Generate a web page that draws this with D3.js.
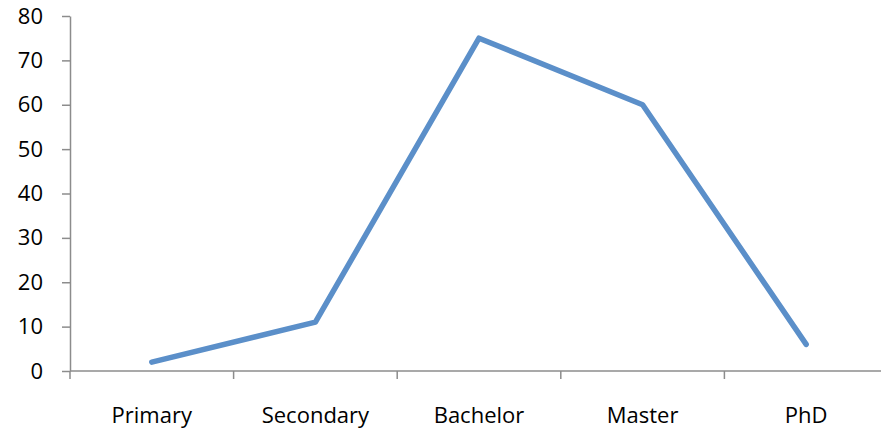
<!DOCTYPE html>
<html>
<head>
<meta charset="utf-8">
<script src="https://cdn.jsdelivr.net/npm/d3@7"></script>
<style>
  body { margin: 0; background: #fff; }
</style>
</head>
<body>
<div class="main"></div>
<script>
const width = 881;
const height = 433;
const margin = ({top: 16, right: -7, bottom: 62, left: 70});

const categories = ['Primary', 'Secondary', 'Bachelor', 'Master', 'PhD'];
const values = [2, 11, 75, 60, 6];
const yTicks = [0, 10, 20, 30, 40, 50, 60, 70, 80];

const data = categories.map((c, i) => ({cat: c, value: values[i]}));

const font = '"Open Sans", Lato, sans-serif';

const svg = d3.select('.main')
  .append('svg')
  .attr('width', width)
  .attr('height', height)
  .attr('style', `font-family: ${font}; font-size: 22px;`);

const x = d3.scaleBand()
  .domain(categories)
  .range([margin.left, width - margin.right]);

const y = d3.scaleLinear()
  .domain([0, 80])
  .range([height - margin.bottom, margin.top]);

const axisColor = '#8c8c8c';

// y axis
const yAxis = svg.append('g')
  .attr('transform', `translate(${margin.left}, 0)`)
  .call(d3.axisLeft(y).tickValues(yTicks).tickSize(8).tickPadding(19).tickSizeOuter(0));
yAxis.attr('font-family', null).attr('font-size', null);
yAxis.select('.domain').attr('stroke', axisColor).attr('stroke-width', 1.5);
yAxis.selectAll('.tick line').attr('stroke', axisColor).attr('stroke-width', 1.5);
yAxis.selectAll('.tick text').attr('fill', '#000');

// x axis
const xAxisG = svg.append('g')
  .attr('transform', `translate(0, ${y(0)})`);
xAxisG.append('line')
  .attr('x1', margin.left).attr('x2', width)
  .attr('stroke', axisColor).attr('stroke-width', 1.5);
const boundaries = categories.map(c => x(c));
xAxisG.selectAll('line.tk')
  .data(boundaries)
  .enter()
  .append('line')
  .attr('class', 'tk')
  .attr('x1', d => d).attr('x2', d => d)
  .attr('y1', 0).attr('y2', 8)
  .attr('stroke', axisColor).attr('stroke-width', 1.5);
xAxisG.selectAll('text')
  .data(categories)
  .enter()
  .append('text')
  .attr('x', d => x(d) + x.bandwidth() / 2)
  .attr('y', 44)
  .attr('dy', '0.35em')
  .attr('text-anchor', 'middle')
  .attr('fill', '#000')
  .text(d => d);

// line
const line = d3.line()
  .x(d => x(d.cat) + x.bandwidth() / 2)
  .y(d => y(d.value));

svg.append('path')
  .datum(data)
  .attr('fill', 'none')
  .attr('stroke', '#5b8fc9')
  .attr('stroke-width', 5.5)
  .attr('stroke-linejoin', 'round')
  .attr('stroke-linecap', 'round')
  .attr('d', line);
</script>
</body>
</html>
